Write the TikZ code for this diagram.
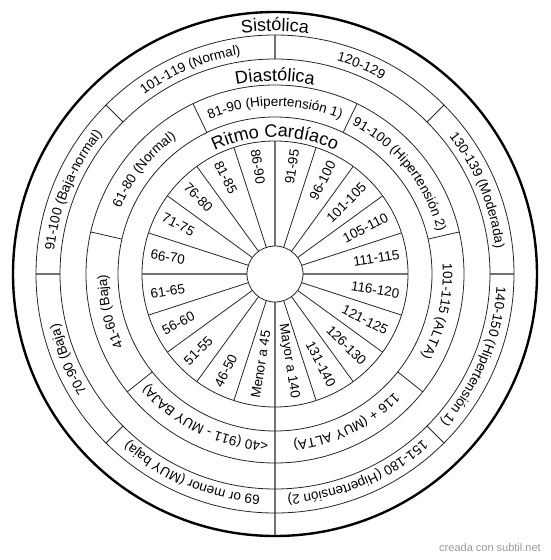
\documentclass[tikz,border=0pt]{standalone}
\usepackage{fontspec}
\setmainfont{Liberation Sans}
\usetikzlibrary{decorations.text}

\newcommand{\labfont}{\fontsize{13.5}{16}\selectfont}
\newcommand{\titlefont}{\fontsize{18}{21}\selectfont}
% curved text, read clockwise: mid angle, half span, baseline radius, font, text
\newcommand{\bandtext}[5]{%
  \path[decorate, decoration={text along path, text align=center, text={|#4|#5}}]
    (#1+#2:#3) arc[start angle=#1+#2, end angle=#1-#2, radius=#3];}

\begin{document}
\begin{tikzpicture}[
    rim/.style={draw=black, line width=2.4pt},
    ring/.style={draw=black!85, line width=0.8pt},
    spoke/.style={draw=black!85, line width=0.8pt},
    axis/.style={draw=black!55, line width=1.6pt},
    rate/.style={font=\labfont, inner sep=1pt}
]
    \useasboundingbox (-275pt,-286pt) rectangle (275pt,274pt);

    % Cross lines
    \foreach \a in {0,90,180}
        \draw[axis] (\a:215pt) -- (\a:239pt);
    \foreach \a in {0,90,180}
        \draw[axis] (\a:28pt) -- (\a:133pt);
    \draw[axis] (-90:28pt) -- (-90:262pt);

    % Systolic separators
    \foreach \a in {45,135,225,315}
        \draw[spoke] (\a:215pt) -- (\a:239pt);

    % Diastolic separators
    \foreach \k in {1,...,6}
        \draw[spoke] ({-90+\k*360/7}:157pt) -- ({-90+\k*360/7}:189pt);

    % Heart rate wedges
    \foreach \a in {18,36,54,72,108,126,144,162,198,216,234,252,288,306,324,342}
        \draw[spoke] (\a:28pt) -- (\a:133pt);

    % Rings
    \foreach \r in {239,215,189,157,133,28}
        \draw[ring] (0,0) circle[radius=\r pt];
    \draw[rim] (0,0) circle[radius=262pt];

    % Titles
    \bandtext{90}{15}{243pt}{\titlefont}{Sistólica}
    \bandtext{90}{20}{193pt}{\titlefont}{Diastólica}
    \bandtext{90}{32}{137pt}{\titlefont}{Ritmo Cardíaco}

    % Systolic ranges
    \bandtext{112.5}{22}{222pt}{\labfont}{101-119 (Normal)}
    \bandtext{67.5}{22}{222pt}{\labfont}{120-129}
    \bandtext{22.5}{22}{222pt}{\labfont}{130-139 (Moderada)}
    \bandtext{-22.5}{22}{222pt}{\labfont}{140-150 (Hipertensión 1)}
    \bandtext{-67.5}{22}{222pt}{\labfont}{151-180 (Hipertensión 2)}
    \bandtext{-112.5}{22}{222pt}{\labfont}{69 or menor (MUY baja)}
    \bandtext{-157.5}{22}{222pt}{\labfont}{70-90 (Baja)}
    \bandtext{157.5}{22}{222pt}{\labfont}{91-100 (Baja-normal)}

    % Diastolic ranges
    \bandtext{90}{25.7}{168pt}{\labfont}{81-90 (Hipertensión 1)}
    \bandtext{38.57}{25.7}{168pt}{\labfont}{91-100 (Hipertensión 2)}
    \bandtext{-12.86}{25.7}{168pt}{\labfont}{101-115 (ALTA)}
    \bandtext{-64.29}{25.7}{168pt}{\labfont}{116 + (MUY ALTA)}
    \bandtext{-115.71}{25.7}{168pt}{\labfont}{<40 (911 - MUY BAJA)}
    \bandtext{192.86}{25.7}{168pt}{\labfont}{41-60 (Baja)}
    \bandtext{141.43}{25.7}{168pt}{\labfont}{61-80 (Normal)}

    % Heart rate, right half reads outward
    \foreach \a/\t [count=\i] in {81/91-95, 63/96-100, 45/101-105, 27/105-110,
        9/111-115, -9/116-120, -27/121-125, -45/126-130, -63/131-140, -81/Mayor a 140}
        \node[rate, anchor=east, rotate=\a] (rateR\i) at (\a:127pt) {\t};
    % left half reads inward
    \foreach \a/\t [count=\i] in {-99/Menor a 45, -117/46-50, -135/51-55, -153/56-60,
        -171/61-65, 171/66-70, 153/71-75, 135/76-80, 117/81-85, 99/86-90}
        \node[rate, anchor=west, rotate=\a-180] (rateL\i) at (\a:127pt) {\t};

    \node[font=\fontsize{11}{13}\selectfont, text=black!40] (credit) at (215pt,-274pt) {creada con subtil.net};
\end{tikzpicture}
\end{document}
